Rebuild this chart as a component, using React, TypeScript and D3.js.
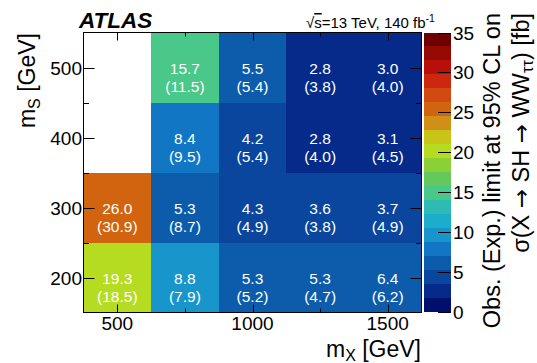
import React from "react";
import * as d3 from "d3";

// Grid of signal mass points
const mX = [500, 750, 1000, 1250, 1500];
const mS = [200, 300, 400, 500];

// Observed limits [fb], one row per mS (null = no signal point)
const obs200 = [19.3, 8.8, 5.3, 5.3, 6.4];
const obs300 = [26.0, 5.3, 4.3, 3.6, 3.7];
const obs400 = [null, 8.4, 4.2, 2.8, 3.1];
const obs500 = [null, 15.7, 5.5, 2.8, 3.0];

// Expected limits [fb]
const exp200 = [18.5, 7.9, 5.2, 4.7, 6.2];
const exp300 = [30.9, 8.7, 4.9, 3.8, 4.9];
const exp400 = [null, 9.5, 5.4, 4.0, 4.5];
const exp500 = [null, 11.5, 5.4, 3.8, 4.0];

const observed = [obs200, obs300, obs400, obs500];
const expected = [exp200, exp300, exp400, exp500];

const xMajorTicks = [500, 1000, 1500];
const xMinorTicks = [750, 1250];
const yMajorTicks = [200, 300, 400, 500];
const yMinorTicks = [250, 350, 450];
const zTicks = [0, 5, 10, 15, 20, 25, 30, 35];

// 20-level contour palette from 0 to 35 fb
const palette = [
  "#000e6c", "#052a8a", "#0a469e", "#0d5cab", "#1176c4",
  "#1896cc", "#1caccc", "#2cbcb4", "#4ac88a", "#64c85c",
  "#8cd038", "#b6dc22", "#c8c418", "#d09018", "#d26410",
  "#d04a12", "#cc2810", "#b81008", "#960a04", "#6e0000",
];

const FONT = "'Liberation Sans', Arial, Helvetica, sans-serif";
const ARROW_FONT = "'DejaVu Sans', sans-serif";

export default function App() {
  const x = d3.scaleLinear().domain([375, 1625]).range([83.5, 421.5]);
  const y = d3.scaleLinear().domain([150, 550]).range([312.5, 32.5]);
  const zMax = 35;
  const color = d3.scaleQuantize<string>().domain([0, zMax]).range(palette);
  const z = d3.scaleLinear().domain([0, zMax]).range([312, 32.5]);
  const binW = 250;
  const binH = 100;
  const cbX0 = 424;
  const cbX1 = 451;

  const cells: any[] = [];
  mS.forEach((s, i) => {
    mX.forEach((m, j) => {
      const o = observed[i][j];
      const e = expected[i][j];
      if (o == null) return;
      cells.push({ s, m, o, e });
    });
  });

  const bandStep = zMax / palette.length;

  return (
    <svg
      width={537}
      height={363}
      style={{ position: "absolute", left: 0, top: 0, background: "#fff" }}
      fontFamily={FONT}
    >
      {/* cells */}
      {cells.map((c, k) => (
        <rect
          key={"c" + k}
          x={x(c.m - binW / 2)}
          y={y(c.s + binH / 2)}
          width={x(c.m + binW / 2) - x(c.m - binW / 2)}
          height={y(c.s - binH / 2) - y(c.s + binH / 2)}
          fill={color(c.o)}
          shapeRendering="crispEdges"
        />
      ))}
      {/* cell labels: observed over (expected) */}
      {cells.map((c, k) => (
        <g key={"t" + k} fill="#fff" fontSize={15.5} textAnchor="middle">
          <text x={x(c.m)} y={y(c.s) + 6}>{c.o.toFixed(1)}</text>
          <text x={x(c.m)} y={y(c.s) + 24}>({c.e.toFixed(1)})</text>
        </g>
      ))}

      {/* frame */}
      <rect
        x={x(375)}
        y={y(550)}
        width={x(1625) - x(375)}
        height={y(150) - y(550)}
        fill="none"
        stroke="#000"
        strokeWidth={1}
      />

      {/* ticks on all four sides */}
      <g stroke="#000" strokeWidth={1}>
        {xMajorTicks.map((t) => (
          <g key={"xm" + t}>
            <line x1={Math.round(x(t)) + 0.5} x2={Math.round(x(t)) + 0.5} y1={y(150)} y2={y(150) - 8} />
            <line x1={Math.round(x(t)) + 0.5} x2={Math.round(x(t)) + 0.5} y1={y(550)} y2={y(550) + 8} />
          </g>
        ))}
        {xMinorTicks.map((t) => (
          <g key={"xn" + t}>
            <line x1={Math.round(x(t)) + 0.5} x2={Math.round(x(t)) + 0.5} y1={y(150)} y2={y(150) - 4} />
            <line x1={Math.round(x(t)) + 0.5} x2={Math.round(x(t)) + 0.5} y1={y(550)} y2={y(550) + 4} />
          </g>
        ))}
        {yMajorTicks.map((t) => (
          <g key={"ym" + t}>
            <line y1={Math.round(y(t)) + 0.5} y2={Math.round(y(t)) + 0.5} x1={x(375)} x2={x(375) + 11} />
            <line y1={Math.round(y(t)) + 0.5} y2={Math.round(y(t)) + 0.5} x1={x(1625)} x2={x(1625) - 11} />
          </g>
        ))}
        {yMinorTicks.map((t) => (
          <g key={"yn" + t}>
            <line y1={Math.round(y(t)) + 0.5} y2={Math.round(y(t)) + 0.5} x1={x(375)} x2={x(375) + 5.5} />
            <line y1={Math.round(y(t)) + 0.5} y2={Math.round(y(t)) + 0.5} x1={x(1625)} x2={x(1625) - 5.5} />
          </g>
        ))}
      </g>

      {/* tick labels */}
      <g fontSize={19} fill="#000">
        {xMajorTicks.map((t) => (
          <text key={"xl" + t} x={x(t)} y={329.5} textAnchor="middle">{t}</text>
        ))}
        {yMajorTicks.map((t) => (
          <text key={"yl" + t} x={82} y={y(t) + 7} textAnchor="end">{t}</text>
        ))}
      </g>

      {/* axis titles */}
      <text x={421} y={357} fontSize={23} textAnchor="end">
        m<tspan fontSize={16} dy={4}>X</tspan>
        <tspan dy={-4}> [GeV]</tspan>
      </text>
      <text transform="translate(35,33) rotate(-90)" fontSize={23} textAnchor="end">
        m<tspan fontSize={16} dy={5}>S</tspan>
        <tspan dy={-5}> [GeV]</tspan>
      </text>

      {/* colour bar */}
      {palette.map((col, i) => (
        <rect
          key={"b" + i}
          x={cbX0}
          y={z((i + 1) * bandStep)}
          width={cbX1 - cbX0}
          height={z(i * bandStep) - z((i + 1) * bandStep)}
          fill={col}
          shapeRendering="crispEdges"
        />
      ))}
      <g stroke="#000" strokeWidth={1}>
        {zTicks.map((t) => (
          <line key={"zt" + t} x1={cbX1} x2={cbX1 - 13} y1={Math.round(z(t)) + 0.5} y2={Math.round(z(t)) + 0.5} />
        ))}
      </g>
      <g fontSize={19} fill="#000">
        {zTicks.map((t) => (
          <text key={"zl" + t} x={453} y={z(t) + 7}>{t}</text>
        ))}
      </g>
      <text transform="translate(500,13) rotate(-90)" fontSize={23.5} textAnchor="end">
        Obs. (Exp.) limit at 95% CL on
      </text>
      <text transform="translate(529,13) rotate(-90)" fontSize={23.5} textAnchor="end">
        σ(X <tspan fontFamily={ARROW_FONT} fontSize={23}>→</tspan> SH{" "}
        <tspan fontFamily={ARROW_FONT} fontSize={23}>→</tspan> WW
        <tspan fontSize={16.5} dy={4}>ττ</tspan>
        <tspan dy={-4}>) [fb]</tspan>
      </text>

      {/* labels above the frame */}
      <text x={79} y={28} fontSize={22.5} fontWeight="bold" fontStyle="italic">ATLAS</text>
      <text x={306} y={28} fontSize={15}>
        √<tspan style={{ textDecoration: "overline" }}>s</tspan>=13 TeV, 140 fb
        <tspan fontSize={10.5} dy={-6}>-1</tspan>
      </text>
    </svg>
  );
}
